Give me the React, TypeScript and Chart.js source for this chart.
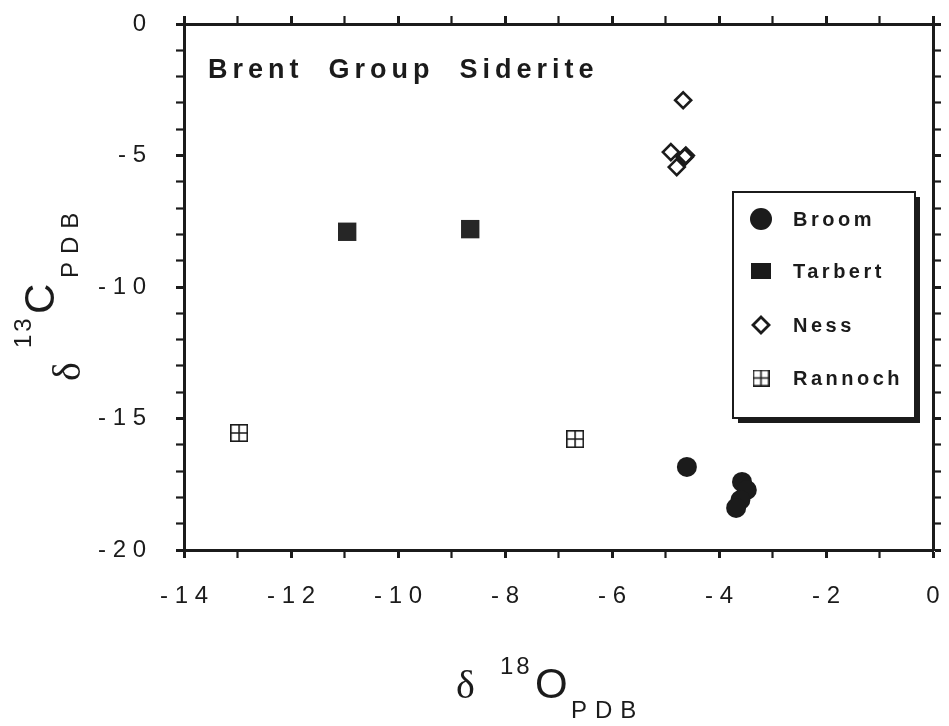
import React, { useEffect, useRef } from 'react';
import { Chart, registerables } from 'chart.js';

Chart.register(...registerables);

// ---- data (δ18O PDB, δ13C PDB) ----
const seriesNames = ['Broom', 'Tarbert', 'Ness', 'Rannoch'];
const broomO = [-4.6, -3.57, -3.48, -3.6, -3.68];
const broomC = [-16.84, -17.41, -17.72, -18.1, -18.4];
const tarbertO = [-10.95, -8.65];
const tarbertC = [-7.9, -7.8];
const nessO = [-4.67, -4.9, -4.64, -4.62, -4.79];
const nessC = [-2.9, -4.87, -5.06, -5.0, -5.44];
const rannochO = [-12.97, -6.69];
const rannochC = [-15.55, -15.78];

const xMin = -14;
const xMax = 0;
const yMin = -20;
const yMax = 0;
const xLabelEvery = 2;
const yLabelEvery = 5;

const chartTitle = 'Brent  Group  Siderite';
const xTitleParts = ['δ', '18', 'O', 'PDB'];
const yTitleParts = ['δ', '13', 'C', 'PDB'];

const SANS = '"Liberation Sans", Arial, Helvetica, sans-serif';
const SERIF = '"Liberation Serif", "DejaVu Serif", serif';
const INK = '#1b1b1b';

function fmtTick(v: number): string {
  if (v === 0) return '0';
  const s = String(Math.abs(v)).split('').join(' ');
  return (v < 0 ? '- ' : '') + s;
}

function makeBoxCross(size: number, lw: number): HTMLCanvasElement {
  const c = document.createElement('canvas');
  c.width = size;
  c.height = size;
  const g = c.getContext('2d')!;
  g.strokeStyle = INK;
  g.lineWidth = lw;
  const o = lw / 2;
  g.strokeRect(o, o, size - lw, size - lw);
  g.beginPath();
  g.moveTo(size / 2, o);
  g.lineTo(size / 2, size - o);
  g.moveTo(o, size / 2);
  g.lineTo(size - o, size / 2);
  g.stroke();
  return c;
}

function toPts(xs: number[], ys: number[]) {
  return xs.map((x, i) => ({ x, y: ys[i] }));
}

const zeroPad = (s: any) => {
  s.paddingTop = 0;
  s.paddingBottom = 0;
  s.paddingLeft = 0;
  s.paddingRight = 0;
};

export default function App() {
  const ref = useRef<HTMLCanvasElement | null>(null);

  useEffect(() => {
    const canvas = ref.current;
    if (!canvas) return;
    const boxCross = makeBoxCross(18, 1.6);
    const boxCrossLegend = makeBoxCross(17, 1.6);

    const decor = {
      id: 'decor',
      afterDraw(chart: any) {
        const ctx = chart.ctx as CanvasRenderingContext2D;
        const ca = chart.chartArea;
        ctx.save();
        ctx.fillStyle = INK;
        ctx.textBaseline = 'alphabetic';
        ctx.textAlign = 'left';

        // chart title inside plot
        ctx.font = `bold 27px ${SANS}`;
        (ctx as any).letterSpacing = '5px';
        ctx.fillText(chartTitle, ca.left + 24, ca.top + 54);

        // X title: δ 18O PDB
        (ctx as any).letterSpacing = '0px';
        ctx.font = `40px ${SERIF}`;
        ctx.fillText(xTitleParts[0], 456, 698);
        ctx.font = `24px ${SANS}`;
        (ctx as any).letterSpacing = '3px';
        ctx.fillText(xTitleParts[1], 500, 674);
        (ctx as any).letterSpacing = '0px';
        ctx.font = `42px ${SANS}`;
        ctx.fillText(xTitleParts[2], 535, 698);
        ctx.font = `24px ${SANS}`;
        (ctx as any).letterSpacing = '8px';
        ctx.fillText(xTitleParts[3], 571, 718);

        // Y title rotated
        const rot = (txt: string, font: string, sp: string, bx: number, by: number) => {
          ctx.save();
          ctx.translate(bx, by);
          ctx.rotate(-Math.PI / 2);
          ctx.font = font;
          (ctx as any).letterSpacing = sp;
          ctx.fillText(txt, 0, 0);
          ctx.restore();
        };
        rot(yTitleParts[0], `40px ${SERIF}`, '0px', 80, 381);
        rot(yTitleParts[1], `24px ${SANS}`, '3px', 31, 348);
        rot(yTitleParts[2], `42px ${SANS}`, '0px', 54, 314);
        rot(yTitleParts[3], `24px ${SANS}`, '8px', 78, 278);

        // Legend box
        const lx = 733, ly = 192, lw = 182, lh = 226;
        ctx.fillStyle = INK;
        ctx.fillRect(lx + 5, ly + 5, lw, lh);
        ctx.fillStyle = '#ffffff';
        ctx.fillRect(lx, ly, lw, lh);
        ctx.strokeStyle = INK;
        ctx.lineWidth = 2;
        ctx.strokeRect(lx, ly, lw, lh);

        const rows = [219, 271, 325, 378];
        const mx = 761;
        ctx.font = `bold 20px ${SANS}`;
        (ctx as any).letterSpacing = '3.5px';
        chart.data.datasets.forEach((ds: any, i: number) => {
          const y = rows[i];
          ctx.fillStyle = INK;
          ctx.strokeStyle = INK;
          if (i === 0) {
            ctx.beginPath();
            ctx.arc(mx, y, 11, 0, Math.PI * 2);
            ctx.fill();
          } else if (i === 1) {
            ctx.fillRect(mx - 10, y - 8, 20, 16);
          } else if (i === 2) {
            ctx.lineWidth = 2.8;
            ctx.beginPath();
            ctx.moveTo(mx, y - 8);
            ctx.lineTo(mx + 8, y);
            ctx.lineTo(mx, y + 8);
            ctx.lineTo(mx - 8, y);
            ctx.closePath();
            ctx.stroke();
          } else {
            ctx.drawImage(boxCrossLegend, mx - 8.5, y - 8.5);
          }
          ctx.fillStyle = INK;
          ctx.fillText(ds.label, 793, y + 7);
        });
        ctx.restore();
      },
    };

    const gridCommon = (majorEvery: number) => ({
      drawOnChartArea: false,
      drawTicks: true,
      tickLength: 8,
      tickColor: INK,
      tickWidth: (c: any) => (c.tick && c.tick.value % majorEvery === 0 ? 3 : 2.2),
    });
    const borderCommon = { display: true, color: INK, width: 3 };

    const chart = new Chart(canvas, {
      type: 'scatter',
      data: {
        datasets: [
          {
            label: seriesNames[0],
            data: toPts(broomO, broomC),
            pointStyle: 'circle',
            pointRadius: 10,
            backgroundColor: INK,
            borderColor: INK,
            borderWidth: 0,
          },
          {
            label: seriesNames[1],
            data: toPts(tarbertO, tarbertC),
            pointStyle: 'rect',
            pointRadius: 13,
            backgroundColor: '#262626',
            borderColor: '#262626',
            borderWidth: 0,
          },
          {
            label: seriesNames[2],
            data: toPts(nessO, nessC),
            pointStyle: 'rectRot',
            pointRadius: 8,
            backgroundColor: 'rgba(255,255,255,0)',
            borderColor: INK,
            borderWidth: 2.6,
          },
          {
            label: seriesNames[3],
            data: toPts(rannochO, rannochC),
            pointStyle: boxCross as any,
            pointRadius: 9,
            backgroundColor: INK,
            borderColor: INK,
          },
        ],
      },
      options: {
        responsive: false,
        animation: false,
        events: [],
        layout: { padding: 0 },
        plugins: {
          legend: { display: false },
          tooltip: { enabled: false },
          title: { display: false },
        },
        scales: {
          x: {
            type: 'linear',
            position: 'bottom',
            min: xMin,
            max: xMax,
            grid: gridCommon(xLabelEvery),
            border: borderCommon,
            ticks: {
              stepSize: 1,
              autoSkip: false,
              maxRotation: 0,
              padding: 24,
              color: INK,
              font: { family: SANS, size: 24 },
              callback: (v: any) => (Number(v) % xLabelEvery === 0 ? fmtTick(Number(v)) : ''),
            },
            afterFit: (s: any) => {
              s.height = 176;
              zeroPad(s);
            },
          },
          x2: {
            type: 'linear',
            position: 'top',
            display: true,
            min: xMin,
            max: xMax,
            grid: gridCommon(xLabelEvery),
            border: borderCommon,
            ticks: { stepSize: 1, autoSkip: false, callback: () => '' },
            afterFit: (s: any) => {
              s.height = 24;
              zeroPad(s);
            },
          },
          y: {
            type: 'linear',
            position: 'left',
            min: yMin,
            max: yMax,
            grid: gridCommon(yLabelEvery),
            border: borderCommon,
            ticks: {
              stepSize: 1,
              autoSkip: false,
              padding: 30,
              color: INK,
              font: { family: SANS, size: 24 },
              callback: (v: any) => (Number(v) % yLabelEvery === 0 ? fmtTick(Number(v)) : ''),
            },
            afterFit: (s: any) => {
              s.width = 184;
              zeroPad(s);
            },
          },
          y2: {
            type: 'linear',
            position: 'right',
            display: true,
            min: yMin,
            max: yMax,
            grid: gridCommon(yLabelEvery),
            border: borderCommon,
            ticks: { stepSize: 1, autoSkip: false, callback: () => '' },
            afterFit: (s: any) => {
              s.width = 16;
              zeroPad(s);
            },
          },
        },
      },
      plugins: [decor],
    });

    return () => {
      chart.destroy();
    };
  }, []);

  return (
    <div style={{ position: 'absolute', left: 0, top: 0, width: 949, height: 726, background: '#fff' }}>
      <canvas ref={ref} width={949} height={726} style={{ display: 'block' }} />
    </div>
  );
}
